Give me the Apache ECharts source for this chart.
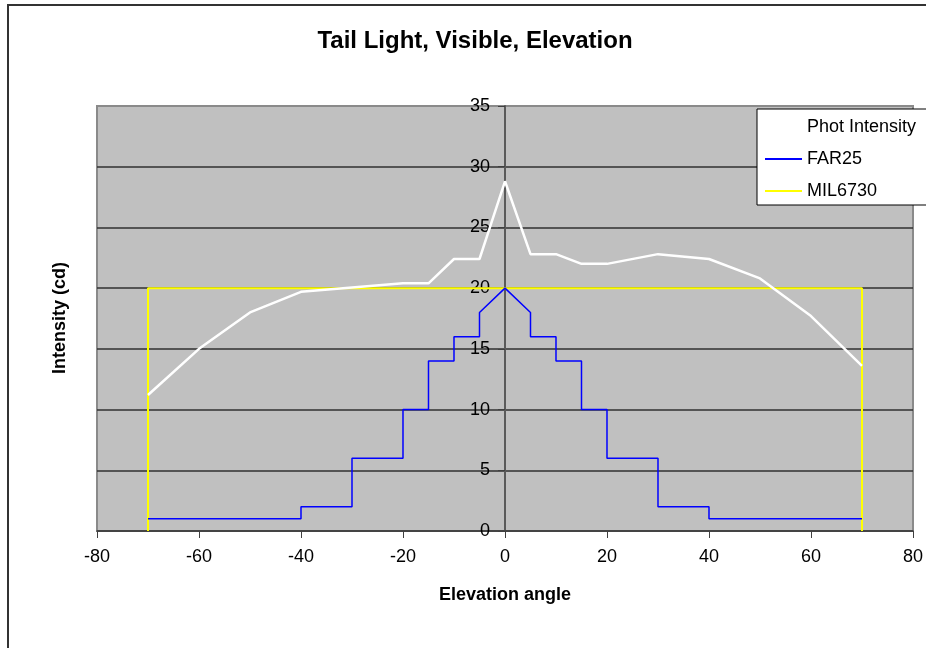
<!DOCTYPE html>
<html>
<head>
<meta charset="utf-8">
<script src="https://cdn.jsdelivr.net/npm/echarts@6/dist/echarts.min.js"></script>
<style>
  html, body { margin: 0; padding: 0; background: #fff; }
  #chart { width: 926px; height: 648px; }
</style>
</head>
<body>
<div id="chart"></div>
<script>
// Photometric intensity vs elevation angle
const photAngles = [-70, -60, -50, -40, -20, -15, -10, -5, 0, 5, 10, 15, 20, 30, 40, 50, 60, 70];
const photValues = [11.2, 15.0, 18.0, 19.7, 20.4, 20.4, 22.4, 22.4, 28.8, 22.8, 22.8, 22.0, 22.0, 22.8, 22.4, 20.8, 17.7, 13.6];

// FAR25 minimum intensity (stepped)
const farAngles = [-70, -40, -40, -30, -30, -20, -20, -15, -15, -10, -10, -5, -5, 0, 5, 5, 10, 10, 15, 15, 20, 20, 30, 30, 40, 40, 70];
const farValues = [1, 1, 2, 2, 6, 6, 10, 10, 14, 14, 16, 16, 18, 20, 18, 16, 16, 14, 14, 10, 10, 6, 6, 2, 2, 1, 1];

// MIL6730 envelope
const milAngles = [-70, -70, 70, 70];
const milValues = [0, 20, 20, 0];

const seriesNames = ['Phot Intensity', 'FAR25', 'MIL6730'];
const xTicks = { min: -80, max: 80, interval: 20 };
const yTicks = { min: 0, max: 35, interval: 5 };

const pairs = (xs, ys) => xs.map((x, i) => [x, ys[i]]);
const FONT = 'Arial, "Liberation Sans", sans-serif';

// plot box in pixels
const GRID = { left: 97, top: 106, right: 13, bottom: 117 };
const plotWidth = 926 - GRID.left - GRID.right;
// shift the value axis so it crosses the horizontal axis at 0
const yAxisShift = -plotWidth * (0 - xTicks.min) / (xTicks.max - xTicks.min);

const chart = echarts.init(document.getElementById('chart'), null, { renderer: 'canvas' });

chart.setOption({
  backgroundColor: '#ffffff',
  animation: false,
  title: {
    text: 'Tail Light, Visible, Elevation',
    left: 470,
    top: 24,
    textAlign: 'center',
    textStyle: { fontFamily: FONT, fontSize: 24, fontWeight: 'bold', color: '#000' }
  },
  legend: {
    orient: 'vertical',
    left: 757,
    top: 109,
    padding: [9, 14, 5, 8],
    itemGap: 14,
    itemWidth: 37,
    itemHeight: 2,
    icon: 'rect',
    backgroundColor: '#ffffff',
    borderColor: '#000000',
    borderWidth: 1,
    borderRadius: 0,
    textStyle: { fontFamily: FONT, fontSize: 18, color: '#000' },
    data: seriesNames
  },
  grid: {
    left: GRID.left,
    top: GRID.top,
    right: GRID.right,
    bottom: GRID.bottom,
    show: true,
    backgroundColor: '#c0c0c0',
    borderColor: '#8a8a8a',
    borderWidth: 2
  },
  xAxis: {
    type: 'value',
    min: xTicks.min,
    max: xTicks.max,
    interval: xTicks.interval,
    name: 'Elevation angle',
    nameLocation: 'middle',
    nameGap: 55,
    nameTextStyle: { fontFamily: FONT, fontSize: 18, fontWeight: 'bold', color: '#000' },
    axisLine: { show: true, onZero: false, lineStyle: { color: '#404040', width: 1.5 } },
    axisTick: { show: true, inside: false, length: 7, lineStyle: { color: '#404040', width: 1 } },
    axisLabel: { margin: 17, fontFamily: FONT, fontSize: 18, color: '#000' },
    splitLine: { show: false }
  },
  yAxis: {
    type: 'value',
    min: yTicks.min,
    max: yTicks.max,
    interval: yTicks.interval,
    position: 'left',
    offset: yAxisShift,
    axisLine: { show: true, onZero: false, lineStyle: { color: '#5a5a5a', width: 2 } },
    axisTick: { show: true, inside: false, length: 7, lineStyle: { color: '#404040', width: 1 } },
    axisLabel: { margin: 15, fontFamily: FONT, fontSize: 18, color: '#000' },
    splitLine: {
      show: true,
      lineStyle: {
        color: ['#404040', '#303030', '#303030', '#303030', '#303030', '#303030', '#303030', '#8a8a8a'],
        width: 1.5
      }
    }
  },
  graphic: [
    {
      type: 'rect',
      shape: { x: 8, y: 5, width: 2000, height: 2000 },
      style: { fill: 'none', stroke: '#333333', lineWidth: 2 },
      z: 100
    },
    {
      type: 'text',
      x: 60,
      y: 318,
      rotation: Math.PI / 2,
      style: {
        text: 'Intensity (cd)',
        align: 'center',
        verticalAlign: 'middle',
        font: 'bold 18px ' + FONT,
        fill: '#000'
      }
    }
  ],
  series: [
    {
      name: seriesNames[0],
      type: 'line',
      data: pairs(photAngles, photValues),
      symbol: 'none',
      z: 4,
      lineStyle: { color: '#ffffff', width: 2.5 },
      itemStyle: { color: '#ffffff' }
    },
    {
      name: seriesNames[1],
      type: 'line',
      data: pairs(farAngles, farValues),
      symbol: 'none',
      z: 3,
      lineStyle: { color: '#0000ff', width: 1.5 },
      itemStyle: { color: '#0000ff' }
    },
    {
      name: seriesNames[2],
      type: 'line',
      data: pairs(milAngles, milValues),
      symbol: 'none',
      z: 2,
      lineStyle: { color: '#ffff00', width: 2 },
      itemStyle: { color: '#ffff00' }
    }
  ]
});
</script>
</body>
</html>
